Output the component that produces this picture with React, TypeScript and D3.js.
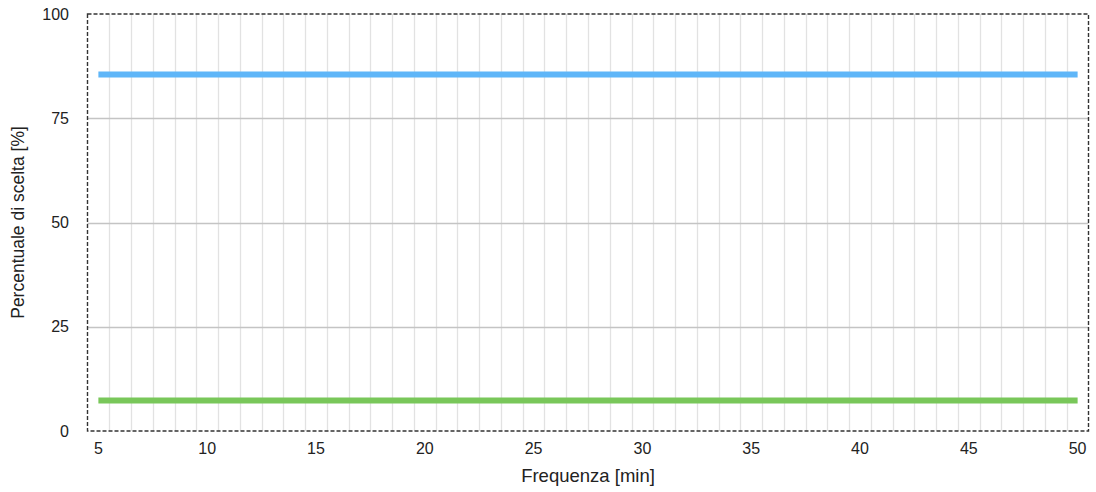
import React from "react";
import * as d3 from "d3";

const categories: number[] = [
  5, 6, 7, 8, 9, 10, 11, 12, 13, 14, 15, 16, 17, 18, 19, 20, 21, 22, 23, 24, 25, 26, 27,
  28, 29, 30, 31, 32, 33, 34, 35, 36, 37, 38, 39, 40, 41, 42, 43, 44, 45, 46, 47, 48, 49, 50,
];
const blueValues: number[] = [
  85.5, 85.5, 85.5, 85.5, 85.5, 85.5, 85.5, 85.5, 85.5, 85.5, 85.5, 85.5, 85.5, 85.5, 85.5, 85.5,
  85.5, 85.5, 85.5, 85.5, 85.5, 85.5, 85.5, 85.5, 85.5, 85.5, 85.5, 85.5, 85.5, 85.5, 85.5, 85.5,
  85.5, 85.5, 85.5, 85.5, 85.5, 85.5, 85.5, 85.5, 85.5, 85.5, 85.5, 85.5, 85.5, 85.5,
];
const greenValues: number[] = [
  7.3, 7.3, 7.3, 7.3, 7.3, 7.3, 7.3, 7.3, 7.3, 7.3, 7.3, 7.3, 7.3, 7.3, 7.3, 7.3, 7.3, 7.3, 7.3,
  7.3, 7.3, 7.3, 7.3, 7.3, 7.3, 7.3, 7.3, 7.3, 7.3, 7.3, 7.3, 7.3, 7.3, 7.3, 7.3, 7.3, 7.3, 7.3,
  7.3, 7.3, 7.3, 7.3, 7.3, 7.3, 7.3, 7.3,
];
const xTickLabels: number[] = [5, 10, 15, 20, 25, 30, 35, 40, 45, 50];
const yTickLabels: number[] = [0, 25, 50, 75, 100];

const W = 1096;
const H = 492;
const left = 87.5;
const right = 1088.5;
const top = 14;
const bottom = 431;
const FONT = "'Liberation Sans', Arial, Helvetica, sans-serif";

export default function App() {
  const x = d3.scaleBand<number>().domain(categories).range([left, right]).padding(0);
  const y = d3.scaleLinear().domain([0, 100]).range([bottom, top]);
  const cx = (c: number) => (x(c) ?? 0) + x.bandwidth() / 2;
  const line = d3
    .line<number>()
    .x((_, i) => cx(categories[i]))
    .y((v) => y(v));

  const bounds = categories.slice(1).map((c) => x(c) ?? 0);

  return (
    <svg
      width={W}
      height={H}
      style={{ position: "absolute", left: 0, top: 0, display: "block" }}
      fontFamily={FONT}
    >
      <rect x={0} y={0} width={W} height={H} fill="#fff" />
      {bounds.map((b, i) => (
        <line key={"vg" + i} x1={Math.round(b) + 0.5} x2={Math.round(b) + 0.5} y1={top} y2={bottom} stroke="#e2e2e2" strokeWidth={1.3} />
      ))}
      {yTickLabels
        .filter((t) => t > 0 && t < 100)
        .map((t) => (
          <line key={"hg" + t} x1={left} x2={right} y1={Math.round(y(t)) + 0.5} y2={Math.round(y(t)) + 0.5} stroke="#c4c4c4" strokeWidth={1.5} />
        ))}
      <path d={line(blueValues) ?? ""} fill="none" stroke="#5fb6f8" strokeWidth={6} />
      <path d={line(greenValues) ?? ""} fill="none" stroke="#79c75a" strokeWidth={6} />
      <rect
        x={left}
        y={top}
        width={right - left}
        height={bottom - top}
        fill="none"
        stroke="#333"
        strokeWidth={1.4}
        strokeDasharray="4,2"
      />
      {yTickLabels.map((t) => (
        <text key={"yt" + t} x={69} y={y(t)} dy="0.35em" textAnchor="end" fontSize={16} fill="#222">
          {t}
        </text>
      ))}
      {xTickLabels.map((t) => (
        <text key={"xt" + t} x={cx(t)} y={448} dy="0.35em" textAnchor="middle" fontSize={16} fill="#222">
          {t}
        </text>
      ))}
      <text x={(left + right) / 2} y={476} dy="0.35em" textAnchor="middle" fontSize={18.5} fill="#222">
        Frequenza [min]
      </text>
      <text
        transform={`translate(18,${(top + bottom) / 2}) rotate(-90)`}
        dy="0.35em"
        textAnchor="middle"
        fontSize={17.5}
        fill="#222"
      >
        Percentuale di scelta [%]
      </text>
    </svg>
  );
}
